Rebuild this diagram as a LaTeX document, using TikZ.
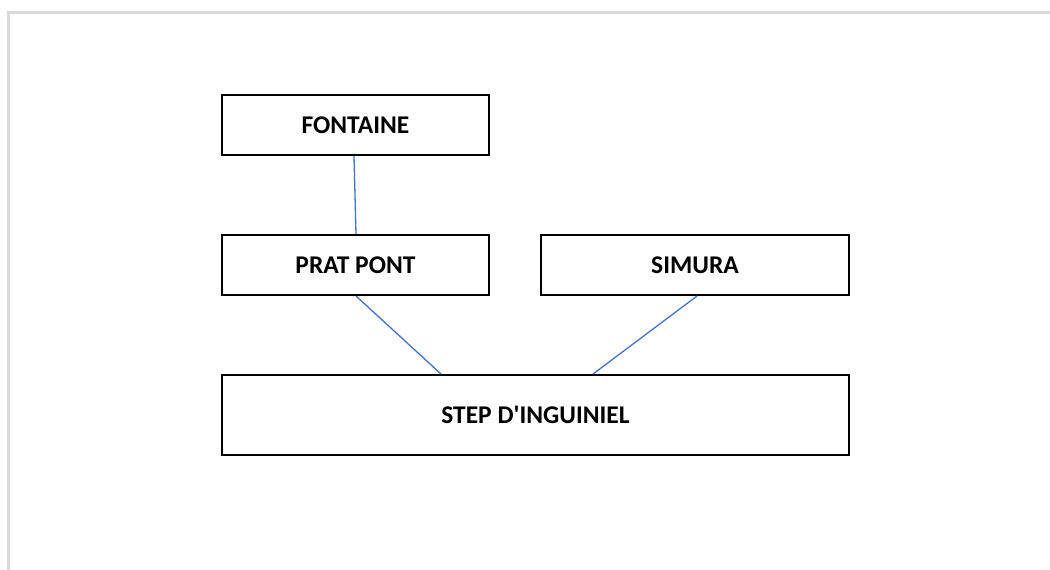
\documentclass[tikz,border=0pt]{standalone}
\usepackage{fontspec}
\newfontfamily\boxfont{Carlito}
\begin{document}
\begin{tikzpicture}[x=1pt,y=-1pt,
  box/.style={draw=black,line width=2pt,minimum height=60pt,inner sep=0pt,font=\boxfont\fontsize{25.5}{30}\selectfont\bfseries},
  link/.style={draw=linkblue,line width=1.3pt}]
\definecolor{linkblue}{HTML}{4472C4}
\definecolor{framegray}{HTML}{D9D9D9}
\useasboundingbox (0,0) rectangle (1050,570);
\draw[framegray,line width=3pt] (8.5,570) -- (8.5,12.5) -- (1050,12.5);
\node[box,minimum width=267pt] (f) at (355.5,125) {FONTAINE};
\node[box,minimum width=267pt] (p) at (355.5,265) {PRAT PONT};
\node[box,minimum width=308pt] (m) at (695,265) {SIMURA};
\node[box,minimum width=627pt,minimum height=80pt] (s) at (535.5,415) {STEP D'INGUINIEL};
\draw[link] ([xshift=-1.5pt]f.south) -- ([xshift=0.5pt]p.north);
\draw[link] ([xshift=0.5pt]p.south) -- ([xshift=-94.5pt]s.north);
\draw[link] ([xshift=2pt]m.south) -- ([xshift=57.5pt]s.north);
\end{tikzpicture}
\end{document}
